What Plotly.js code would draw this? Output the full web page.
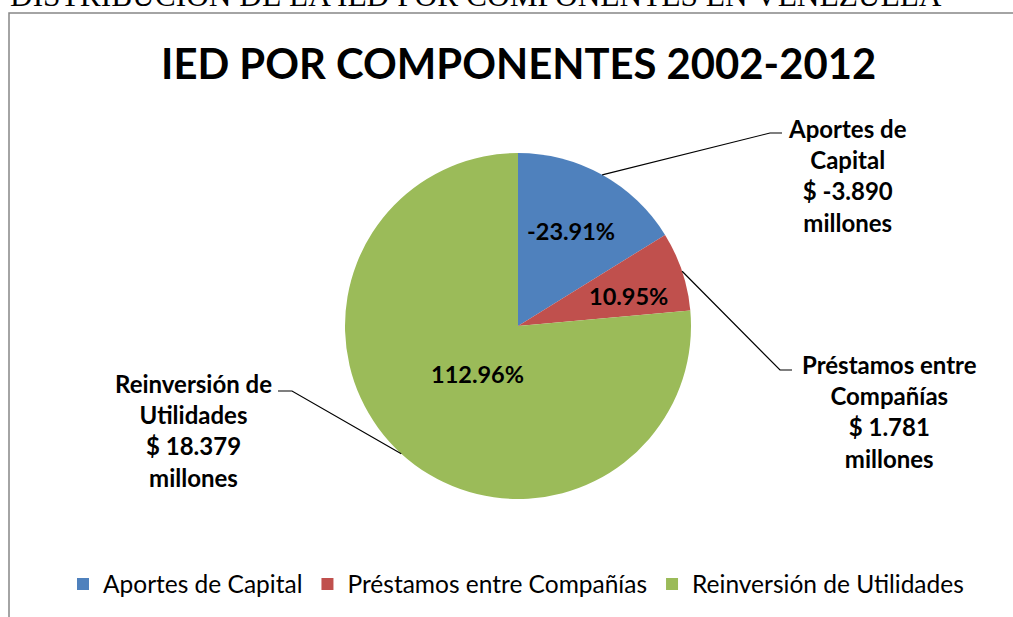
<!DOCTYPE html>
<html>
<head>
<meta charset="utf-8">
<script src="https://cdn.plot.ly/plotly-3.0.1.min.js"></script>
<style>html,body{margin:0;padding:0;background:#fff;}#chart{width:1013px;height:617px;}</style>
</head>
<body>
<div id="chart"></div>
<script>
// ---- data ----
const pageHeading = 'DISTRIBUCIÓN DE LA IED POR COMPONENTES EN VENEZUELA';
const chartTitle = 'IED POR COMPONENTES 2002-2012';
const labels = ['Aportes de Capital', 'Préstamos entre Compañías', 'Reinversión de Utilidades'];
const calloutNames = ['Aportes de<br>Capital', 'Préstamos entre<br>Compañías', 'Reinversión de<br>Utilidades'];
const values = [-3890, 1781, 18379]; // millones USD
const colors = ['#4F81BD', '#C0504D', '#9BBB59'];

// ---- geometry (pixels) ----
const W = 1013, H = 617;
const cx = 518, cy = 326, R = 173;
const px = x => x / W;
const py = y => 1 - y / H;

const total = values.reduce((a, b) => a + b, 0);
const absVals = values.map(Math.abs);
const absTotal = absVals.reduce((a, b) => a + b, 0);
const fmt = v => (v < 0 ? '-' : '') + Math.abs(v).toString().replace(/\B(?=(\d{3})+(?!\d))/g, '.');
const pctText = values.map(v => (v / total * 100).toFixed(2) + '%');

// bisector angles (clockwise from 12 o'clock)
let cum = 0;
const mid = absVals.map(v => { const a = (cum + v / 2) / absTotal * 2 * Math.PI; cum += v; return a; });
const polar = (a, r) => [cx + r * Math.sin(a), cy - r * Math.cos(a)];

const font = 'Lato, Carlito, Calibri, sans-serif';

// inner percent labels
const inner = [[0.63, 0.0], [0.66, 0.06], [0.36, -0.04]];
const annotations = [];
values.forEach((v, i) => {
  const [x, y] = polar(mid[i] + inner[i][1], R * inner[i][0]);
  annotations.push({xref: 'paper', yref: 'paper', x: px(x), y: py(y), xanchor: 'center', yanchor: 'middle',
    text: '<b>' + pctText[i] + '</b>', showarrow: false, font: {family: font, size: 23.5, color: '#000'}});
});

// callouts: text centre, elbow, end
const callouts = [
  {tx: 847, ty: 175, elbow: [770, 133], end: [782, 133]},
  {tx: 889, ty: 411, elbow: [780, 370], end: [792, 370]},
  {tx: 193, ty: 430, elbow: [292, 391], end: [278, 391]}
];
const shapes = [];
callouts.forEach((c, i) => {
  annotations.push({xref: 'paper', yref: 'paper', x: px(c.tx), y: py(c.ty), xanchor: 'center', yanchor: 'middle',
    text: '<b>' + calloutNames[i] + '<br>$ ' + fmt(values[i]) + '<br>millones</b>', showarrow: false,
    align: 'center', font: {family: font, size: 24, color: '#000'}});
  const s = polar(mid[i], R);
  shapes.push({type: 'path', xref: 'paper', yref: 'paper',
    path: `M ${px(s[0])} ${py(s[1])} L ${px(c.elbow[0])} ${py(c.elbow[1])} L ${px(c.end[0])} ${py(c.end[1])}`,
    line: {color: '#000', width: 1.2}});
});

// frame
shapes.push({type: 'rect', xref: 'paper', yref: 'paper', x0: px(9), y0: -0.05, x1: 1.05, y1: py(13),
  line: {color: '#868686', width: 1.5}, layer: 'below'});

// title + page heading
annotations.push({xref: 'paper', yref: 'paper', x: px(518), y: py(63), xanchor: 'center', yanchor: 'middle',
  text: '<b>' + chartTitle + '</b>', showarrow: false, font: {family: font, size: 41.8, color: '#000'}});
annotations.push({xref: 'paper', yref: 'paper', x: px(8), y: py(-4), xanchor: 'left', yanchor: 'middle',
  text: pageHeading, showarrow: false, font: {family: 'Liberation Serif, Times New Roman, serif', size: 31.4, color: '#000'}});

const trace = {
  type: 'pie', labels: labels, values: absVals, sort: false, direction: 'clockwise', rotation: 0,
  marker: {colors: colors, line: {color: '#fff', width: 0}},
  textinfo: 'none', hoverinfo: 'label+percent',
  domain: {x: [px(cx - R), px(cx + R)], y: [py(cy + R), py(cy - R)]}
};

const layout = {
  width: W, height: H, margin: {l: 0, r: 0, t: 0, b: 0},
  paper_bgcolor: '#fff', showlegend: true,
  legend: {orientation: 'h', x: px(516), xanchor: 'center', y: py(584), yanchor: 'middle',
    font: {family: font, size: 24.5, color: '#000'}, itemwidth: 30, traceorder: 'normal'},
  annotations: annotations, shapes: shapes
};

Plotly.newPlot('chart', [trace], layout, {displayModeBar: false, staticPlot: true});
</script>
</body>
</html>
